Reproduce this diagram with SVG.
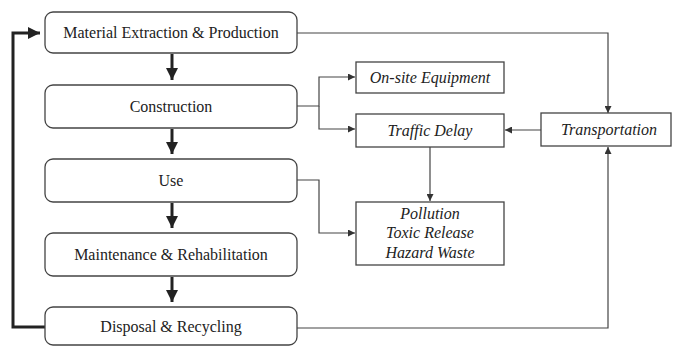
<svg xmlns="http://www.w3.org/2000/svg" width="675" height="348" viewBox="0 0 675 348">
<defs>
<marker id="ah" viewBox="0 0 10 10" refX="10" refY="5" markerWidth="7" markerHeight="7" markerUnits="userSpaceOnUse" orient="auto"><path d="M0,0 L10,5 L0,10 z" fill="#333"/></marker>
<marker id="ahb" viewBox="0 0 10 10" refX="10" refY="5" markerWidth="4" markerHeight="4" orient="auto"><path d="M0,0 L10,5 L0,10 z" fill="#222"/></marker>
<style>
.stage{fill:#fff;stroke:#444;stroke-width:1.3}
.eff{fill:#fff;stroke:#444;stroke-width:1.3}
.t{font-family:"Liberation Serif","Times New Roman",serif;font-size:16px;fill:#222;text-anchor:middle}
.i{font-style:italic}
.c{fill:none;stroke:#444;stroke-width:1.2}
.thick{fill:none;stroke:#222;stroke-width:3}
</style>
</defs>
<rect width="675" height="348" fill="#fff"/>
<g id="connectors">
<path class="thick" d="M172,54 V80" marker-end="url(#ahb)"/>
<path class="thick" d="M172,129 V154" marker-end="url(#ahb)"/>
<path class="thick" d="M172,203 V228" marker-end="url(#ahb)"/>
<path class="thick" d="M172,277 V302" marker-end="url(#ahb)"/>
<path class="thick" d="M45,327 H13 V33 H40" marker-end="url(#ahb)"/>
<path class="c" d="M297,33 H608 V113" marker-end="url(#ah)"/>
<path class="c" d="M297,106 H319 V77 H355" marker-end="url(#ah)"/>
<path class="c" d="M319,106 V129 H355" marker-end="url(#ah)"/>
<path class="c" d="M297,180 H319 V233 H355" marker-end="url(#ah)"/>
<path class="c" d="M430,147 V201" marker-end="url(#ah)"/>
<path class="c" d="M541,130 H505" marker-end="url(#ah)"/>
<path class="c" d="M297,328 H608 V147" marker-end="url(#ah)"/>
</g>
<g id="material"><rect class="stage" x="45" y="12" width="252" height="41" rx="8"/><text class="t" x="171" y="38">Material Extraction &amp; Production</text></g>
<g id="construction"><rect class="stage" x="45" y="85" width="252" height="43" rx="8"/><text class="t" x="171" y="112">Construction</text></g>
<g id="use"><rect class="stage" x="45" y="159" width="252" height="43" rx="8"/><text class="t" x="171" y="186">Use</text></g>
<g id="maintenance"><rect class="stage" x="45" y="233" width="252" height="43" rx="8"/><text class="t" x="171" y="260">Maintenance &amp; Rehabilitation</text></g>
<g id="disposal"><rect class="stage" x="45" y="307" width="252" height="38" rx="8"/><text class="t" x="171" y="332">Disposal &amp; Recycling</text></g>
<g id="onsite"><rect class="eff" x="356" y="62" width="148" height="31"/><text class="t i" x="430" y="83">On-site Equipment</text></g>
<g id="traffic"><rect class="eff" x="356" y="114" width="148" height="33"/><text class="t i" x="430" y="136">Traffic Delay</text></g>
<g id="pollution"><rect class="eff" x="356" y="202" width="148" height="63"/><text class="t i" x="430" y="219">Pollution</text><text class="t i" x="430" y="238">Toxic Release</text><text class="t i" x="430" y="258">Hazard Waste</text></g>
<g id="transportation"><rect class="eff" x="541" y="113" width="130" height="33"/><text class="t i" x="609" y="135">Transportation</text></g>
</svg>
